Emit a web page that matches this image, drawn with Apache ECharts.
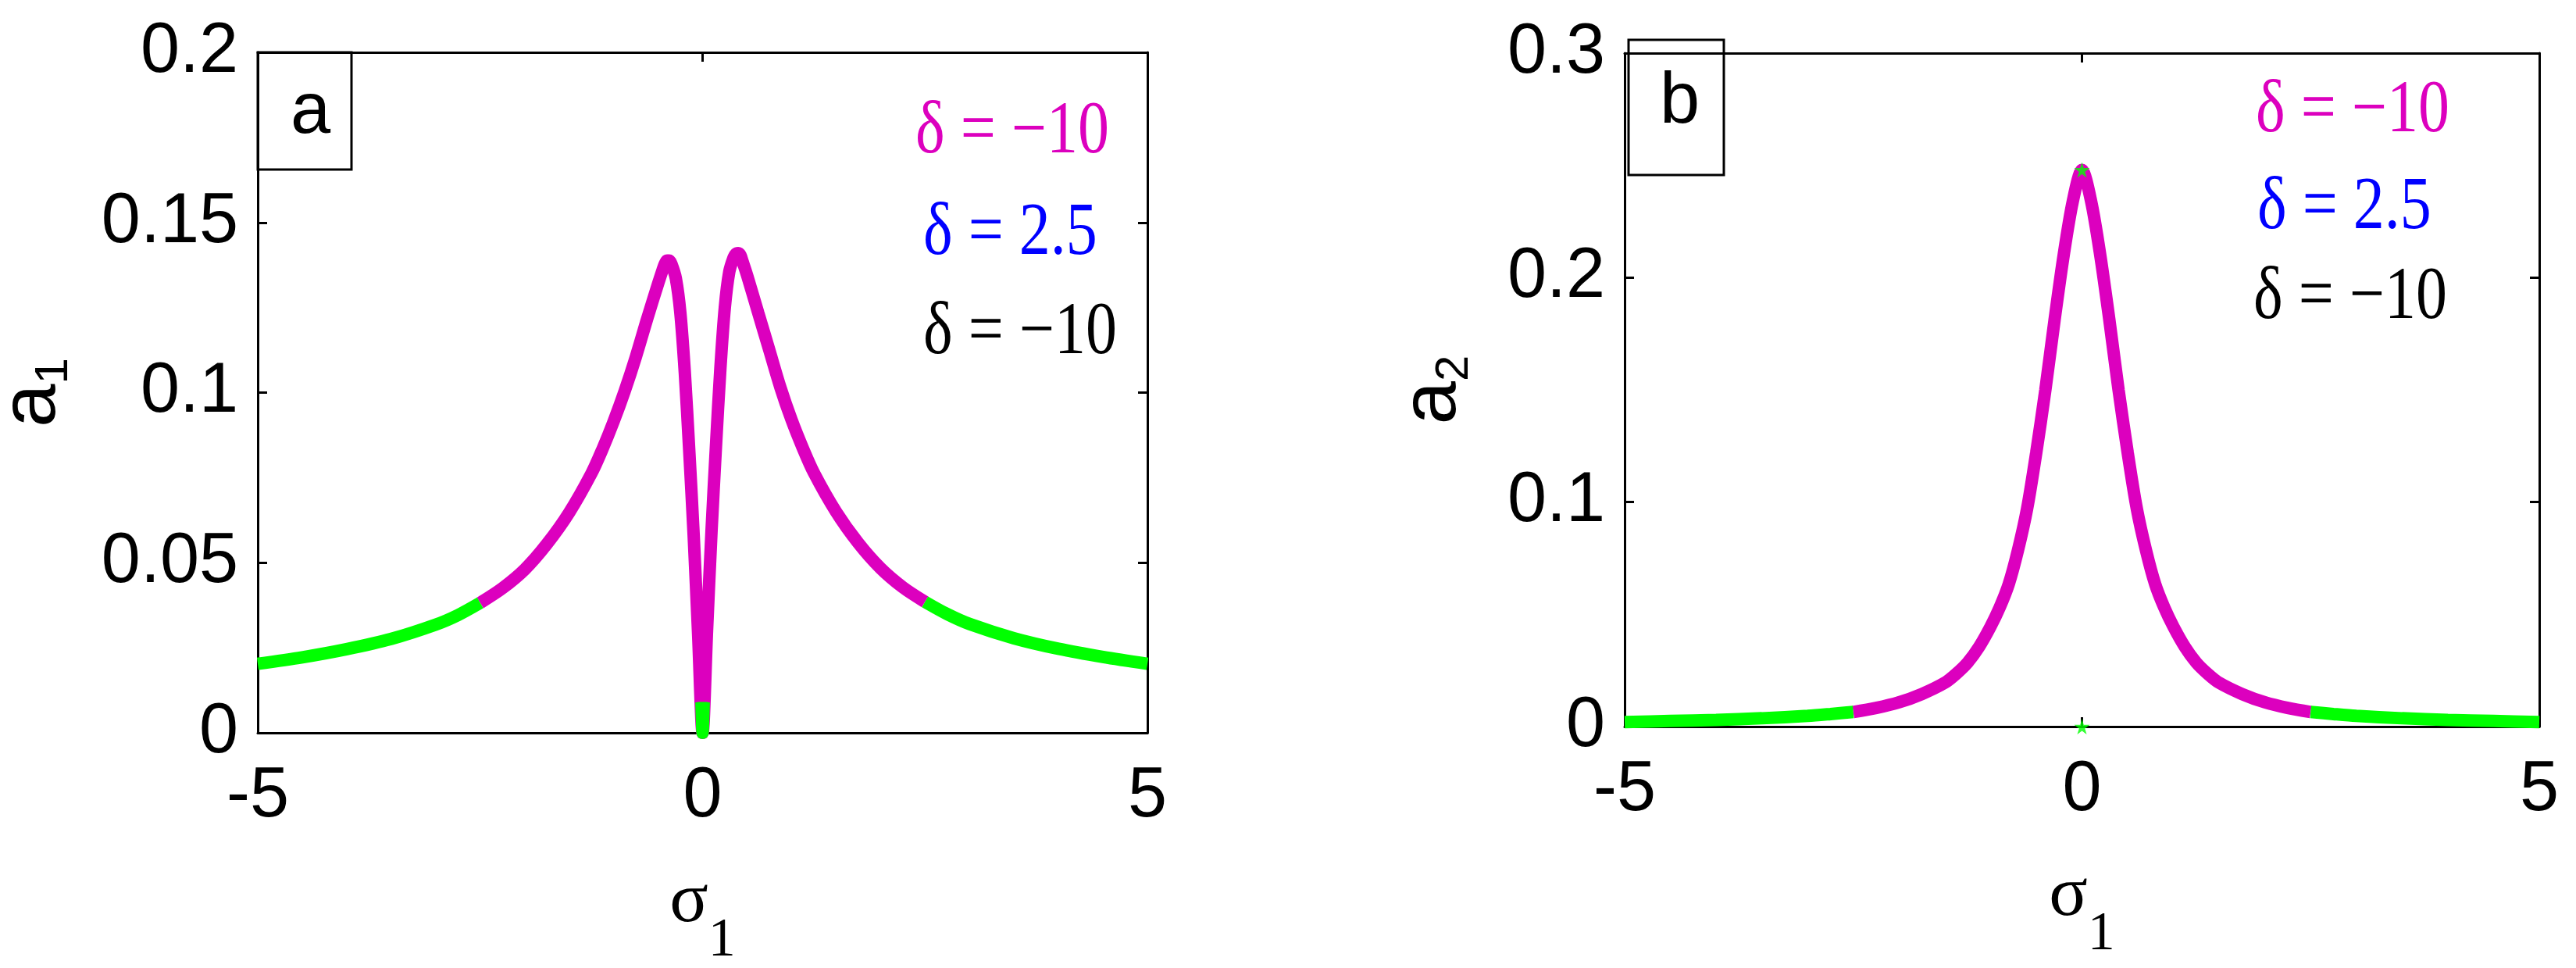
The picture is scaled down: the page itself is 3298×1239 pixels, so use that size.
<!DOCTYPE html>
<html><head><meta charset="utf-8">
<script src="https://cdn.jsdelivr.net/npm/echarts@6/dist/echarts.min.js"></script>
<style>html,body{margin:0;padding:0;background:#fff}#c{width:3298px;height:1239px}</style>
</head><body><div id="c"></div><script>
// ---------- data ----------
const sigmaRange = [-5, 5];
const sigmaInterval = 5;
const a1Range = [0, 0.2];
const a1Interval = 0.05;
const a2Range = [0, 0.3];
const a2Interval = 0.1;

// Panel a : a1 vs sigma1
const a1LeftGreen = [[-5,0.0203],[-4.5,0.0222],[-4,0.0246],[-3.5,0.0276],[-3,0.0318],[-2.75,0.0346],[-2.5,0.0382]];
const a1Magenta = [[-2.5,0.0382],[-2.25,0.0425],[-2,0.048],[-1.75,0.0555],[-1.5,0.0647],[-1.25,0.0762],[-1.125,0.0834],
  [-1,0.0915],[-0.875,0.1005],[-0.75,0.1105],[-0.625,0.1215],[-0.5,0.132],[-0.45,0.136],[-0.425,0.1378],[-0.4,0.1388],
  [-0.375,0.1388],[-0.35,0.1378],[-0.3,0.1335],[-0.25,0.1235],[-0.2,0.106],[-0.15,0.083],[-0.1,0.058],[-0.05,0.029],[0,0],
  [0.05,0.03],[0.1,0.059],[0.15,0.084],[0.2,0.107],[0.25,0.125],[0.3,0.1355],[0.35,0.1398],[0.375,0.1408],[0.4,0.141],
  [0.425,0.1404],[0.45,0.1385],[0.5,0.1345],[0.625,0.1235],[0.75,0.1125],[0.875,0.1015],[1,0.092],[1.125,0.0838],
  [1.25,0.0765],[1.5,0.065],[1.75,0.0558],[2,0.0484],[2.25,0.0428],[2.5,0.0385]];
const a1CenterGreen = [[-0.012,0.009],[0,0],[0.012,0.009]];
const a1RightGreen = [[2.5,0.0385],[2.75,0.0349],[3,0.032],[3.5,0.0278],[4,0.0247],[4.5,0.0223],[5,0.0203]];

// Panel b : a2 vs sigma1
const a2LeftGreen = [[-5,0.002],[-4.5,0.0025],[-4,0.003],[-3.5,0.0037],[-3,0.0048],[-2.75,0.0056],[-2.5,0.0065]];
const a2Magenta = [[-2.5,0.0065],[-2.25,0.0083],[-2,0.0108],[-1.75,0.0145],[-1.5,0.0195],[-1.375,0.0235],[-1.25,0.0285],
  [-1.125,0.0355],[-1,0.0445],[-0.9,0.053],[-0.8,0.0635],[-0.7,0.0785],[-0.6,0.097],[-0.5,0.122],[-0.4,0.15],
  [-0.3,0.181],[-0.2,0.21],[-0.1,0.234],[0,0.248],[0.1,0.234],[0.2,0.21],[0.3,0.181],[0.4,0.15],[0.5,0.122],
  [0.6,0.097],[0.7,0.0785],[0.8,0.0635],[0.9,0.053],[1,0.0445],[1.125,0.0355],[1.25,0.0285],[1.375,0.0235],[1.5,0.0195],
  [1.75,0.0145],[2,0.0108],[2.25,0.0083],[2.5,0.0065]];
const a2RightGreen = [[2.5,0.0065],[2.75,0.0056],[3,0.0048],[3.5,0.0037],[4,0.003],[4.5,0.0025],[5,0.002]];
const a2Stars = [[0,0.248],[0,0]];

const annotTexts = ['δ = −10', 'δ = 2.5', 'δ = −10'];
const panelLetters = ['a', 'b'];

// ---------- styles ----------
const MAG = '#dc00be', GRN = '#00ff00';
const SANS = '"Liberation Sans", Arial, sans-serif';
const SERIF = '"Liberation Serif", "Times New Roman", serif';
const tickFont = {fontSize: 90, fontFamily: SANS, color: '#000'};
const AX = {color: '#000', width: 3};

function mainX(grid, gap) {
  return {type:'value', gridIndex:grid, position:'bottom', min:sigmaRange[0], max:sigmaRange[1], interval:sigmaInterval,
    axisLine:{show:true, onZero:false, lineStyle:AX}, axisTick:{show:true, inside:true, length:12, lineStyle:AX},
    axisLabel:Object.assign({margin:37, showMinLabel:true, showMaxLabel:true}, tickFont), splitLine:{show:false},
    name:'{s|σ}{d|1}', nameLocation:'middle', nameGap:gap,
    nameTextStyle:{rich:{s:{fontSize:92, fontFamily:SERIF, color:'#000', lineHeight:92},
      d:{fontSize:70, fontFamily:SERIF, color:'#000', lineHeight:70, padding:[100,0,0,0]}}}};
}
function sideX(grid) {
  return {type:'value', gridIndex:grid, position:'top', min:sigmaRange[0], max:sigmaRange[1], interval:sigmaInterval,
    axisLine:{show:true, onZero:false, lineStyle:AX}, axisTick:{show:true, inside:true, length:12, lineStyle:AX},
    axisLabel:{show:false}, splitLine:{show:false}};
}
function mainY(grid, range, interval, sub, gap) {
  return {type:'value', gridIndex:grid, position:'left', min:range[0], max:range[1], interval:interval,
    axisLine:{show:true, onZero:false, lineStyle:AX}, axisTick:{show:true, inside:true, length:12, lineStyle:AX},
    axisLabel:Object.assign({margin:25, showMinLabel:true, showMaxLabel:true}, tickFont), splitLine:{show:false},
    name:'{s|a}{d|' + sub + '}', nameLocation:'middle', nameRotate:90, nameGap:gap,
    nameTextStyle:{rich:{s:{fontSize:100, fontFamily:SANS, color:'#000', lineHeight:100},
      d:{fontSize:60, fontFamily:SANS, color:'#000', lineHeight:60, padding:[55,0,0,0]}}}};
}
function sideY(grid, range, interval) {
  return {type:'value', gridIndex:grid, position:'right', min:range[0], max:range[1], interval:interval,
    axisLine:{show:true, onZero:false, lineStyle:AX}, axisTick:{show:true, inside:true, length:12, lineStyle:AX},
    axisLabel:{show:false}, splitLine:{show:false}};
}
function line(ax, data, color) {
  return {type:'line', xAxisIndex:ax, yAxisIndex:ax, data:data, showSymbol:false, smooth:0.3, clip:false,
    lineStyle:{color:color, width:16}, itemStyle:{color:color}, z:3};
}
function txt(x, y, text, color, size, family, sy) {
  return {type:'text', x:x, y:y, z:100, scaleY:sy || 1, style:{text:text, fill:color, fontSize:size, fontFamily:family,
    align:'left', verticalAlign:'middle'}};
}
function box(x, y, w, h) {
  return {type:'rect', z:100, shape:{x:x, y:y, width:w, height:h}, style:{fill:'none', stroke:'#000', lineWidth:3}};
}

const option = {
  animation:false,
  backgroundColor:'#fff',
  grid:[
    {left:330, top:67, width:1139, height:871, outerBoundsMode:'none'},
    {left:2080, top:68, width:1171, height:862, outerBoundsMode:'none'}
  ],
  xAxis:[mainX(0, 109), sideX(0), mainX(1, 111), sideX(1)],
  yAxis:[mainY(0, a1Range, a1Interval, '1', 238), sideY(0, a1Range, a1Interval),
         mainY(1, a2Range, a2Interval, '2', 195), sideY(1, a2Range, a2Interval)],
  series:[
    line(0, a1Magenta, MAG), line(0, a1LeftGreen, GRN), line(0, a1RightGreen, GRN), line(0, a1CenterGreen, GRN),
    line(2, a2Magenta, MAG), line(2, a2LeftGreen, GRN), line(2, a2RightGreen, GRN),
    {type:'scatter', xAxisIndex:2, yAxisIndex:2, data:a2Stars, symbol:'path://M50,0 L61,35 L98,35 L68,57 L79,91 L50,70 L21,91 L32,57 L2,35 L39,35 Z',
      symbolSize:20, itemStyle:{color:GRN}, z:5, clip:false}
  ],
  graphic:[
    box(330, 67, 120, 150), txt(372, 145, panelLetters[0], '#000', 92, SANS),
    box(2085, 51, 122, 173), txt(2125, 132, panelLetters[1], '#000', 92, SANS),
    txt(1172, 170, annotTexts[0], MAG, 80, SERIF, 1.2),
    txt(1182, 300, annotTexts[1], '#0000ff', 80, SERIF, 1.2),
    txt(1182, 427, annotTexts[2], '#000', 80, SERIF, 1.2),
    txt(2888, 143, annotTexts[0], MAG, 80, SERIF, 1.2),
    txt(2890, 267, annotTexts[1], '#0000ff', 80, SERIF, 1.2),
    txt(2885, 382, annotTexts[2], '#000', 80, SERIF, 1.2)
  ]
};
const chart = echarts.init(document.getElementById('c'), null, {renderer:'canvas'});
chart.setOption(option);
</script></body></html>
